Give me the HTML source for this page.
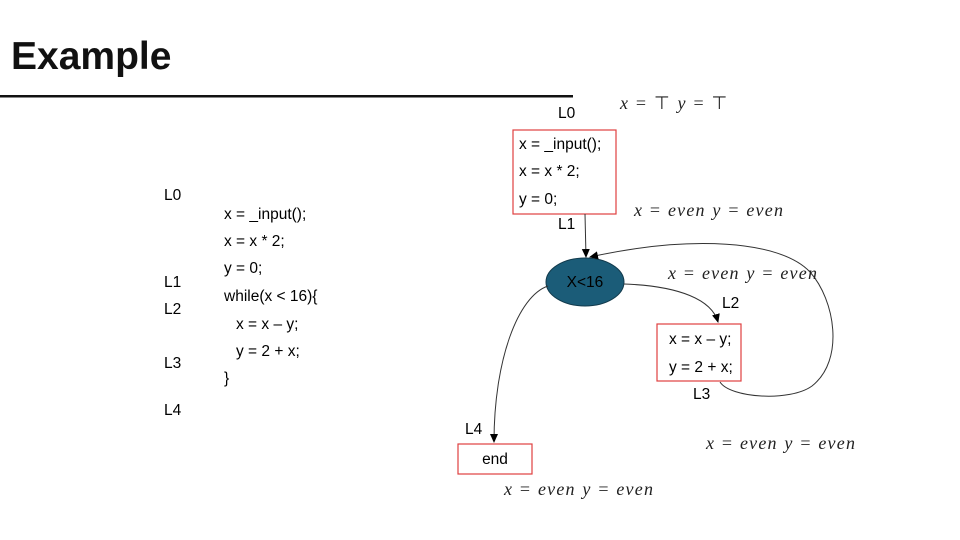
<!DOCTYPE html>
<html><head><meta charset="utf-8"><style>
html,body{margin:0;padding:0;background:#fff;}
svg{display:block;}
.t{font-family:"Liberation Sans",sans-serif;font-size:15.5px;fill:#000;}
.m{font-family:"Liberation Serif",serif;font-size:18px;font-style:italic;fill:#222;letter-spacing:1.2px;word-spacing:1px;}
.m .u{font-style:normal;}
</style></head><body>
<svg width="960" height="540" viewBox="0 0 960 540" xmlns="http://www.w3.org/2000/svg">
<defs><marker id="a" markerWidth="10" markerHeight="10" refX="8" refY="5" orient="auto" markerUnits="userSpaceOnUse"><path d="M0,1 L9,5 L0,9 z" fill="#000"/></marker></defs>
<text x="11" y="69" font-family="Liberation Sans,sans-serif" font-size="39" font-weight="bold" fill="#111">Example</text>
<rect x="0" y="95" width="573" height="2.5" fill="#111"/>

<g class="t">
<text x="164" y="200">L0</text>
<text x="224" y="219">x = _input();</text>
<text x="224" y="246">x = x * 2;</text>
<text x="224" y="273">y = 0;</text>
<text x="224" y="301">while(x &lt; 16){</text>
<text x="236" y="329">x = x – y;</text>
<text x="236" y="356">y = 2 + x;</text>
<text x="224" y="383">}</text>
<text x="164" y="287">L1</text>
<text x="164" y="314">L2</text>
<text x="164" y="368">L3</text>
<text x="164" y="415">L4</text>

<text x="558" y="118">L0</text>
<text x="558" y="229">L1</text>
<text x="722" y="308">L2</text>
<text x="693" y="399">L3</text>
<text x="465" y="434">L4</text>
</g>

<rect x="513" y="130" width="103" height="84" fill="#fff" stroke="#e04040" stroke-width="1.2"/>
<g class="t">
<text x="519" y="149">x = _input();</text>
<text x="519" y="176">x = x * 2;</text>
<text x="519" y="204">y = 0;</text>
</g>
<rect x="657" y="324" width="84" height="57" fill="#fff" stroke="#e04040" stroke-width="1.2"/>
<g class="t">
<text x="669" y="344">x = x – y;</text>
<text x="669" y="372">y = 2 + x;</text>
</g>
<rect x="458" y="444" width="74" height="30" fill="#fff" stroke="#e04040" stroke-width="1.2"/>
<text class="t" x="495" y="464" text-anchor="middle">end</text>

<ellipse cx="585" cy="282" rx="39" ry="24" fill="#1b5c78" stroke="#123a4c" stroke-width="1"/>
<text class="t" x="585" y="287" text-anchor="middle">X&lt;16</text>

<g fill="none" stroke="#333" stroke-width="1">
<path d="M585,214 L586,257" marker-end="url(#a)"/>
<path d="M720,382 C730,398 790,402 812,386 C845,360 835,300 810,272 C780,240 690,235 590,257" marker-end="url(#a)"/>
<path d="M624,284 C680,286 712,300 718,322" marker-end="url(#a)"/>
<path d="M548,286 C518,296 494,360 494,442" marker-end="url(#a)"/>
</g>

<text class="m" x="620" y="109">x <tspan class="u">=</tspan> <tspan class="u">⊤</tspan> y <tspan class="u">=</tspan> <tspan class="u">⊤</tspan></text>
<text class="m" x="634" y="216">x <tspan class="u">=</tspan> even y <tspan class="u">=</tspan> even</text>
<text class="m" x="668" y="279">x <tspan class="u">=</tspan> even y <tspan class="u">=</tspan> even</text>
<text class="m" x="706" y="449">x <tspan class="u">=</tspan> even y <tspan class="u">=</tspan> even</text>
<text class="m" x="504" y="495">x <tspan class="u">=</tspan> even y <tspan class="u">=</tspan> even</text>
</svg>
</body></html>
